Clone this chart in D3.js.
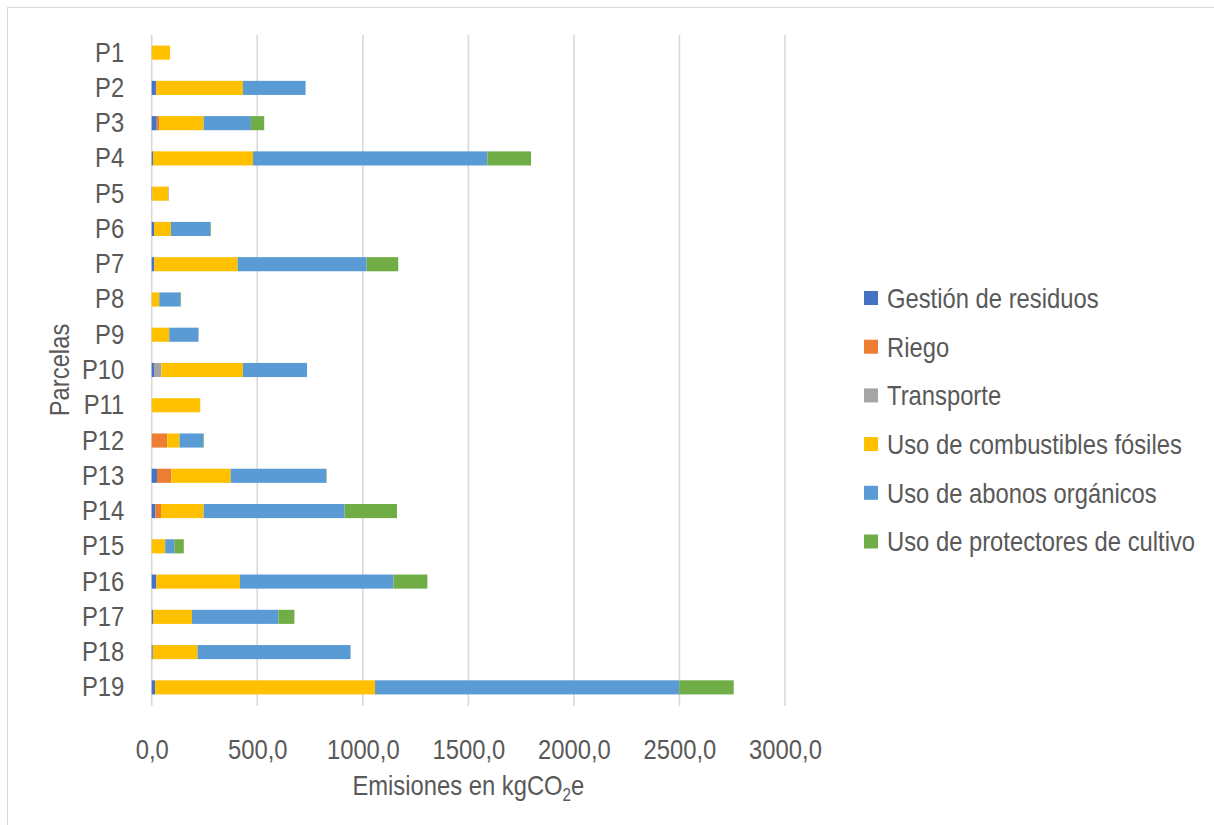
<!DOCTYPE html>
<html>
<head>
<meta charset="utf-8">
<script src="https://cdn.jsdelivr.net/npm/d3@7/dist/d3.min.js"></script>
<style>
  html, body { margin: 0; padding: 0; background: #fff; }
  svg { display: block; }
  text { font-family: "Liberation Sans", Arial, sans-serif; fill: #595959; }
</style>
</head>
<body>
<svg id="chart" width="1214" height="825"></svg>
<script>
// Parcels (top to bottom)
const parcelas = ["P1","P2","P3","P4","P5","P6","P7","P8","P9","P10",
                  "P11","P12","P13","P14","P15","P16","P17","P18","P19"];

// Emission sources (stack order, left to right)
const fuentes = ["Gestión de residuos", "Riego", "Transporte",
                 "Uso de combustibles fósiles", "Uso de abonos orgánicos",
                 "Uso de protectores de cultivo"];

// Emissions per source and parcel, kgCO2e
const gestionResiduos   = [0, 20, 24, 6, 2, 11, 12, 0, 0, 11, 0, 0, 25, 17, 0, 22, 6, 5, 16];
const riego             = [0, 3, 11, 0, 0, 0, 0, 0, 0, 0, 0, 74, 68, 27, 0, 0, 0, 0, 0];
const transporte        = [0, 0, 0, 0, 0, 0, 0, 0, 0, 35, 0, 0, 0, 0, 0, 0, 0, 0, 0];
const combustibles      = [87, 409, 211, 474, 77, 80, 395, 36, 83, 386, 230, 58, 281, 202, 64, 396, 185, 212, 1042];
const abonosOrganicos   = [0, 297, 224, 1110, 2, 187, 611, 100, 139, 304, 0, 113, 453, 668, 43, 727, 409, 725, 1441];
const protectores       = [0, 0, 63, 207, 0, 3, 150, 3, 0, 0, 0, 3, 2, 248, 45, 161, 76, 0, 258];

const xTicks = [0, 500, 1000, 1500, 2000, 2500, 3000];

const colores = ["#4472C4", "#ED7D31", "#A5A5A5", "#FFC000", "#5B9BD5", "#70AD47"];

const series = [gestionResiduos, riego, transporte, combustibles, abonosOrganicos, protectores];
const rows = parcelas.map((p, i) => {
  const r = { parcela: p };
  fuentes.forEach((f, k) => { r[f] = series[k][i]; });
  return r;
});

const svg = d3.select("#chart");
const SX = 0.85;      // narrow glyph width used by all labels
const FS = "28px";    // label font size

// chart frame
svg.append("rect")
  .attr("x", 7.5).attr("y", 7.5)
  .attr("width", 1240).attr("height", 840)
  .attr("fill", "#fff").attr("stroke", "#d9d9d9").attr("stroke-width", 1);

const plot = { left: 151.7, right: 785, top: 35, bottom: 705 };

const x = d3.scaleLinear().domain([0, 3000]).range([plot.left, plot.right]);
const y = d3.scaleBand().domain(parcelas)
  .range([plot.top, plot.bottom]).paddingInner(0.6).paddingOuter(0.3);
const color = d3.scaleOrdinal().domain(fuentes).range(colores);

// vertical gridlines
svg.append("g")
  .selectAll("line")
  .data(xTicks)
  .join("line")
  .attr("x1", d => x(d)).attr("x2", d => x(d))
  .attr("y1", plot.top).attr("y2", plot.bottom + 1)
  .attr("stroke", "#d9d9d9").attr("stroke-width", 1.6);

// stacked bars
const stack = d3.stack().keys(fuentes)(rows);
svg.append("g")
  .selectAll("g")
  .data(stack)
  .join("g")
  .attr("fill", d => color(d.key))
  .selectAll("rect")
  .data(d => d)
  .join("rect")
  .attr("x", d => x(d[0]))
  .attr("y", d => y(d.data.parcela))
  .attr("width", d => Math.max(0, x(d[1]) - x(d[0])))
  .attr("height", y.bandwidth());

// x axis labels
const loc = d3.formatLocale({ decimal: ",", thousands: "", grouping: [3], currency: ["", ""] });
const xAxis = d3.axisBottom(x).tickValues(xTicks).tickFormat(loc.format(".1f"))
  .tickSize(0).tickPadding(0);
const gx = svg.append("g").attr("transform", `translate(0,${plot.bottom + 34})`).call(xAxis);
gx.select(".domain").remove();
gx.selectAll("text")
  .attr("dy", "0.71em").attr("y", 0)
  .attr("transform", `scale(${SX},1)`)
  .style("font-size", FS).style("fill", "#595959")
  .style("font-family", '"Liberation Sans", Arial, sans-serif');

// y axis labels
const yAxis = d3.axisLeft(y).tickSize(0).tickPadding(27.5 / SX);
const gy = svg.append("g").attr("transform", `translate(${plot.left},0)`).call(yAxis);
gy.select(".domain").remove();
gy.selectAll("text")
  .attr("transform", `scale(${SX},1)`)
  .style("font-size", FS).style("fill", "#595959")
  .style("font-family", '"Liberation Sans", Arial, sans-serif');

// axis titles
const xt = svg.append("text")
  .attr("transform", `translate(${(plot.left + plot.right) / 2},795) scale(${SX},1)`)
  .attr("text-anchor", "middle")
  .style("font-size", FS);
xt.append("tspan").text("Emisiones en kgCO");
xt.append("tspan").text("2").attr("dy", 6).style("font-size", "18px");
xt.append("tspan").text("e").attr("dy", -6);

svg.append("text")
  .attr("transform", `translate(69,${(plot.top + plot.bottom) / 2}) rotate(-90) scale(${SX},1)`)
  .attr("text-anchor", "middle")
  .style("font-size", FS)
  .text("Parcelas");

// legend
const legend = svg.append("g");
const legendTop = 298, legendStep = 48.7;
fuentes.forEach((f, i) => {
  const cy = legendTop + i * legendStep;
  legend.append("rect")
    .attr("x", 864).attr("y", cy - 7)
    .attr("width", 14).attr("height", 14)
    .attr("fill", color(f));
  legend.append("text")
    .attr("transform", `translate(887,${cy}) scale(${SX},1)`)
    .attr("dy", "0.35em")
    .style("font-size", FS)
    .text(f);
});
</script>
</body>
</html>
